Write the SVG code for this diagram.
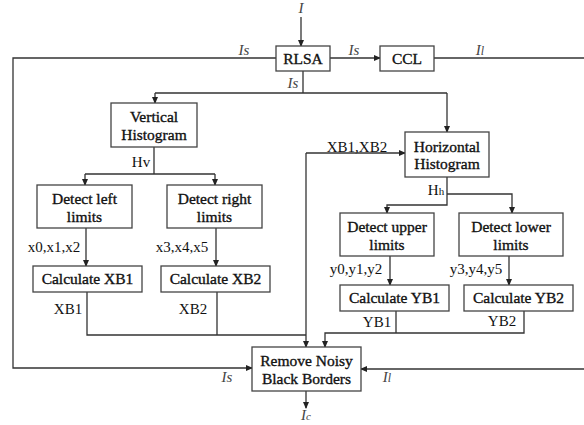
<svg xmlns="http://www.w3.org/2000/svg" width="584" height="425" viewBox="0 0 584 425">
<style>
.box{fill:#fff;stroke:#444;stroke-width:1.3}
.t{font-family:"Liberation Serif",serif;font-size:15.5px;fill:#111;stroke:#111;stroke-width:0.35;text-anchor:middle}
.l{font-family:"Liberation Serif",serif;font-size:15px;fill:#111;text-anchor:middle}
.i{font-family:"Liberation Serif",serif;font-size:15px;font-style:italic;fill:#444;text-anchor:middle}
.c{fill:none;stroke:#333;stroke-width:1.3}
</style>
<defs>
<marker id="a" markerWidth="7" markerHeight="6" refX="6" refY="3" orient="auto" markerUnits="userSpaceOnUse">
<path d="M0,0 L7,3 L0,6 Z" fill="#222"/>
</marker>
</defs>
<rect width="584" height="425" fill="#fff"/>
<g id="connectors">
<path class="c" d="M301,17 V46" marker-end="url(#a)"/>
<path class="c" d="M276,58 H13 V368 H252" marker-end="url(#a)"/>
<path class="c" d="M330,58 H380" marker-end="url(#a)"/>
<path class="c" d="M434,58 H584"/>
<path class="c" d="M584,369 H361" marker-end="url(#a)"/>
<path class="c" d="M303,71 V93 M155,93 H447"/>
<path class="c" d="M155,93 V103" marker-end="url(#a)"/>
<path class="c" d="M447,93 V132" marker-end="url(#a)"/>
<path class="c" d="M154,147 V174 M85,174 H215"/>
<path class="c" d="M85,174 V185" marker-end="url(#a)"/>
<path class="c" d="M215,174 V185" marker-end="url(#a)"/>
<path class="c" d="M86,228 V266" marker-end="url(#a)"/>
<path class="c" d="M216,228 V266" marker-end="url(#a)"/>
<path class="c" d="M87,292 V335 H306 M217,292 V335"/>
<path class="c" d="M306,153 H405" marker-end="url(#a)"/>
<path class="c" d="M306,153 V347" marker-end="url(#a)"/>
<path class="c" d="M447,177 V205 H387 V213" marker-end="url(#a)"/>
<path class="c" d="M447,194 H512 V213" marker-end="url(#a)"/>
<path class="c" d="M390,256 V285" marker-end="url(#a)"/>
<path class="c" d="M509,256 V285" marker-end="url(#a)"/>
<path class="c" d="M396,311 V333 M524,311 V333 H325 V347" marker-end="url(#a)"/>
<path class="c" d="M306,391 V408" marker-end="url(#a)"/>
</g>
<g id="labels">
<text class="i" x="301" y="13">I</text>
<text class="i" x="244" y="55">Is</text>
<text class="i" x="354" y="55">Is</text>
<text class="i" x="480" y="55">I<tspan font-size="12">l</tspan></text>
<text class="i" x="293" y="88">Is</text>
<text class="l" x="141" y="167">Hv</text>
<text class="l" x="357" y="152">XB1,XB2</text>
<text class="l" x="436" y="195">H<tspan font-size="11">h</tspan></text>
<text class="l" x="54" y="252">x0,x1,x2</text>
<text class="l" x="182" y="252">x3,x4,x5</text>
<text class="l" x="68" y="314">XB1</text>
<text class="l" x="193" y="314">XB2</text>
<text class="l" x="356" y="274">y0,y1,y2</text>
<text class="l" x="476" y="274">y3,y4,y5</text>
<text class="l" x="377" y="327">YB1</text>
<text class="l" x="502" y="326">YB2</text>
<text class="i" x="227" y="382">Is</text>
<text class="i" x="387" y="382">I<tspan font-size="12">l</tspan></text>
<text class="i" x="306" y="420" font-size="14">I<tspan font-size="11">c</tspan></text>
</g>
<g id="rlsa"><rect class="box" x="276" y="46" width="54" height="25"/><text class="t" x="303" y="64">RLSA</text></g>
<g id="ccl"><rect class="box" x="380" y="46" width="54" height="25"/><text class="t" x="407" y="64">CCL</text></g>
<g id="vhist"><rect class="box" x="111" y="103" width="86" height="44"/><text class="t" x="154" y="122">Vertical</text><text class="t" x="154" y="140">Histogram</text></g>
<g id="dleft"><rect class="box" x="37" y="185" width="95" height="43"/><text class="t" x="84.5" y="204">Detect left</text><text class="t" x="84.5" y="222">limits</text></g>
<g id="dright"><rect class="box" x="167" y="185" width="95" height="43"/><text class="t" x="214.5" y="204">Detect right</text><text class="t" x="214.5" y="222">limits</text></g>
<g id="cxb1"><rect class="box" x="33" y="266" width="109" height="26"/><text class="t" x="87.5" y="284">Calculate XB1</text></g>
<g id="cxb2"><rect class="box" x="161" y="266" width="109" height="26"/><text class="t" x="215.5" y="284">Calculate XB2</text></g>
<g id="hhist"><rect class="box" x="405" y="132" width="84" height="45"/><text class="t" x="447" y="152">Horizontal</text><text class="t" x="447" y="169">Histogram</text></g>
<g id="dupper"><rect class="box" x="340" y="213" width="94" height="43"/><text class="t" x="387" y="232">Detect upper</text><text class="t" x="387" y="250">limits</text></g>
<g id="dlower"><rect class="box" x="459" y="213" width="104" height="43"/><text class="t" x="511" y="232">Detect lower</text><text class="t" x="511" y="250">limits</text></g>
<g id="cyb1"><rect class="box" x="340" y="285" width="109" height="26"/><text class="t" x="394.5" y="303">Calculate YB1</text></g>
<g id="cyb2"><rect class="box" x="464" y="285" width="109" height="26"/><text class="t" x="518.5" y="303">Calculate YB2</text></g>
<g id="remove"><rect class="box" x="252" y="347" width="109" height="44"/><text class="t" x="306.5" y="366">Remove Noisy</text><text class="t" x="306.5" y="384">Black Borders</text></g>
</svg>
